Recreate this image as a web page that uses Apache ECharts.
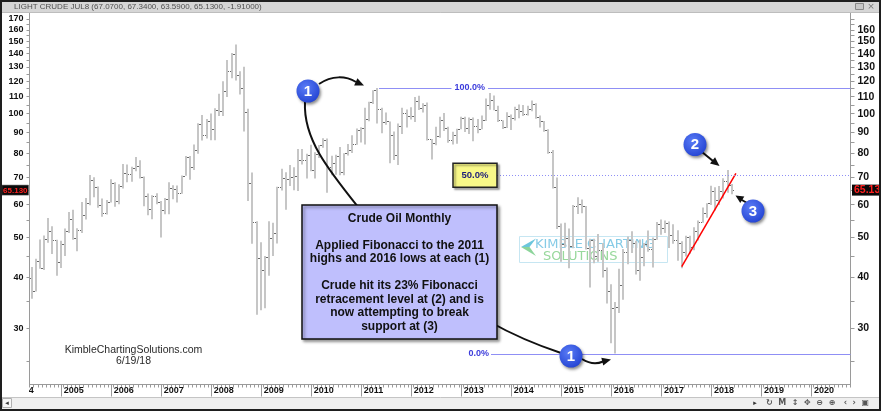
<!DOCTYPE html>
<html>
<head>
<meta charset="utf-8">
<script src="https://cdn.jsdelivr.net/npm/echarts@6.0.0/dist/echarts.min.js"></script>
<style>
html,body{margin:0;padding:0;background:#fff;}
#chart{width:881px;height:411px;}
</style>
</head>
<body>
<div id="chart"></div>
<script>
// ---------------- DATA ----------------
// Monthly bars, first bar = 2004-06, last bar = 2018-06
const firstBar = { year: 2004, month: 6 };
const axisEnd = { year: 2020, month: 10 };

const open = [
  39.90, 37.05, 43.80, 42.12, 49.64, 51.76, 49.13,
  43.45, 48.20, 51.75, 55.40, 49.72, 51.97, 56.50, 60.57, 68.94, 66.24, 59.76, 57.32,
  61.04, 67.92, 61.41, 66.63, 71.88, 71.29, 73.93, 74.40, 70.26, 62.91, 58.73, 63.13,
  61.05, 58.14, 61.79, 65.87, 65.71, 64.01, 70.68, 78.21, 74.04, 81.66, 94.53, 88.71,
  95.98, 91.75, 101.84, 101.58, 113.46, 127.35, 140.00, 124.08, 115.46, 100.64, 67.81, 54.43,
  44.60, 41.68, 44.76, 49.66, 51.12, 66.31, 69.89, 69.45, 69.96, 70.61, 77.00, 77.28,
  79.36, 72.89, 79.66, 83.76, 86.15, 73.97, 75.63, 78.95, 71.92, 79.97, 81.43, 84.11,
  91.38, 92.19, 96.97, 106.72, 113.93, 102.70, 95.42, 95.70, 88.81, 79.20, 93.19, 100.36,
  98.83, 98.48, 107.07, 103.02, 104.87, 86.53, 84.96, 88.06, 96.47, 92.19, 86.24, 88.91,
  91.82, 97.49, 92.05, 97.23, 93.46, 91.97, 96.56, 105.03, 107.65, 102.33, 96.38, 92.72,
  98.42, 97.49, 102.59, 101.58, 99.74, 102.71, 105.37, 98.17, 95.96, 91.16, 80.54, 66.15,
  53.27, 48.24, 49.76, 47.60, 59.63, 60.30, 59.47, 47.12, 49.20, 45.09, 46.59, 41.65,
  37.04, 33.62, 33.75, 38.34, 45.92, 49.10, 48.33, 41.60, 44.70, 48.24, 46.86, 49.44,
  53.72, 52.81, 54.01, 50.60, 49.33, 48.32, 46.04, 50.17, 47.23, 51.67, 54.38, 57.40,
  60.42, 64.73, 61.64, 64.94, 68.57, 67.07
];
const high = [
  42.33, 44.34, 49.40, 50.47, 55.67, 53.15, 49.30,
  49.00, 52.50, 57.60, 58.30, 52.60, 60.95, 62.30, 70.85, 70.00, 66.50, 62.10, 61.60,
  69.20, 68.10, 67.30, 75.35, 75.20, 74.20, 78.40, 77.00, 70.30, 63.90, 63.30, 64.00,
  61.30, 62.30, 68.10, 66.90, 66.80, 70.70, 78.80, 78.80, 84.10, 94.70, 99.30, 97.00,
  100.10, 103.00, 111.80, 119.90, 135.10, 140.40, 147.30, 126.80, 130.00, 102.80, 71.90, 54.70,
  48.60, 45.00, 54.70, 54.20, 66.40, 73.40, 72.00, 75.00, 74.00, 82.00, 82.00, 79.80,
  83.95, 80.50, 83.90, 87.10, 87.00, 79.00, 79.40, 82.90, 80.10, 84.40, 88.60, 92.00,
  92.60, 103.40, 106.95, 114.00, 115.50, 103.40, 100.60, 95.70, 90.50, 94.60, 103.40, 102.40,
  103.70, 109.80, 110.50, 106.00, 106.40, 86.80, 92.90, 98.30, 100.40, 92.90, 90.30, 91.90,
  98.20, 98.20, 97.80, 97.80, 97.00, 99.00, 108.90, 112.20, 110.70, 104.50, 96.40, 100.80,
  99.50, 104.00, 105.20, 104.99, 104.50, 107.70, 106.00, 98.90, 96.00, 91.60, 81.60, 69.90,
  54.00, 54.20, 52.50, 59.90, 62.60, 61.80, 59.60, 49.60, 49.60, 50.90, 48.40, 42.20,
  38.40, 34.80, 41.90, 46.80, 50.20, 51.70, 49.00, 49.40, 48.40, 51.90, 49.90, 54.50,
  55.20, 54.90, 54.60, 53.80, 52.00, 48.90, 50.40, 50.40, 52.90, 54.90, 59.05, 60.50,
  66.70, 66.20, 66.60, 69.60, 72.90, 67.40
];
const low = [
  35.40, 36.90, 41.90, 41.60, 48.50, 45.50, 40.30,
  42.10, 45.00, 51.20, 49.30, 46.20, 51.20, 55.20, 59.80, 62.60, 59.00, 56.10, 56.80,
  60.80, 59.30, 60.20, 65.70, 68.10, 68.30, 72.40, 69.50, 59.50, 56.60, 55.30, 60.20,
  49.90, 56.90, 56.90, 61.90, 60.80, 63.80, 70.60, 69.00, 72.90, 79.80, 86.00, 87.00,
  86.10, 86.10, 98.70, 98.70, 109.80, 122.00, 120.40, 111.30, 90.50, 61.30, 48.20, 32.40,
  33.20, 33.60, 40.30, 45.00, 48.30, 65.00, 58.30, 66.60, 65.10, 64.80, 75.20, 69.50,
  72.40, 69.50, 78.00, 82.60, 64.20, 70.80, 71.00, 70.80, 70.80, 79.10, 80.20, 84.00,
  85.10, 84.10, 95.80, 105.50, 94.60, 89.60, 94.00, 75.70, 77.10, 74.95, 89.20, 92.50,
  96.70, 95.40, 102.10, 100.70, 86.00, 77.30, 83.70, 87.30, 90.70, 84.90, 84.10, 84.50,
  91.60, 90.20, 89.20, 85.60, 89.60, 91.60, 95.90, 102.20, 101.90, 95.40, 91.80, 92.20,
  91.20, 96.20, 97.40, 98.70, 98.90, 101.40, 97.20, 92.50, 90.40, 79.80, 65.70, 52.40,
  43.60, 47.30, 42.00, 47.00, 57.00, 57.20, 46.70, 37.75, 43.20, 43.60, 39.90, 34.50,
  27.60, 26.05, 32.70, 35.20, 43.00, 45.80, 40.60, 39.20, 42.50, 46.10, 42.20, 49.30,
  50.70, 51.20, 47.10, 48.20, 43.80, 42.05, 44.90, 45.60, 46.50, 49.10, 54.20, 55.80,
  59.90, 58.10, 59.95, 62.10, 64.20, 63.59
];
const close = [
  37.05, 43.80, 42.12, 49.64, 51.76, 49.13, 43.45,
  48.20, 51.75, 55.40, 49.72, 51.97, 56.50, 60.57, 68.94, 66.24, 59.76, 57.32, 61.04,
  67.92, 61.41, 66.63, 71.88, 71.29, 73.93, 74.40, 70.26, 62.91, 58.73, 63.13, 61.05,
  58.14, 61.79, 65.87, 65.71, 64.01, 70.68, 78.21, 74.04, 81.66, 94.53, 88.71, 95.98,
  91.75, 101.84, 101.58, 113.46, 127.35, 140.00, 124.08, 115.46, 100.64, 67.81, 54.43, 44.60,
  41.68, 44.76, 49.66, 51.12, 66.31, 69.89, 69.45, 69.96, 70.61, 77.00, 77.28, 79.36,
  72.89, 79.66, 83.76, 86.15, 73.97, 75.63, 78.95, 71.92, 79.97, 81.43, 84.11, 91.38,
  92.19, 96.97, 106.72, 113.93, 102.70, 95.42, 95.70, 88.81, 79.20, 93.19, 100.36, 98.83,
  98.48, 107.07, 103.02, 104.87, 86.53, 84.96, 88.06, 96.47, 92.19, 86.24, 88.91, 91.82,
  97.49, 92.05, 97.23, 93.46, 91.97, 96.56, 105.03, 107.65, 102.33, 96.38, 92.72, 98.42,
  97.49, 102.59, 101.58, 99.74, 102.71, 105.37, 98.17, 95.96, 91.16, 80.54, 66.15, 53.27,
  48.24, 49.76, 47.60, 59.63, 60.30, 59.47, 47.12, 49.20, 45.09, 46.59, 41.65, 37.04,
  33.62, 33.75, 38.34, 45.92, 49.10, 48.33, 41.60, 44.70, 48.24, 46.86, 49.44, 53.72,
  52.81, 54.01, 50.60, 49.33, 48.32, 46.04, 50.17, 47.23, 51.67, 54.38, 57.40, 60.42,
  64.73, 61.64, 64.94, 68.57, 67.04, 65.13
];

const leftAxisLabels = [30, 40, 50, 60, 70, 80, 90, 100, 110, 120, 130, 140, 150, 160, 170];
const rightAxisLabels = [30, 40, 50, 60, 70, 80, 90, 100, 110, 120, 130, 140, 150, 160];
const yTickValues = [25, 30, 35, 40, 45, 50, 55, 60, 65, 70, 75, 80, 85, 90, 95, 100, 105, 110,
  115, 120, 125, 130, 135, 140, 145, 150, 155, 160, 165, 170];

const fibStart = '2011-05';
const fibHigh = 115.5;   // 100.0%
const fibMid = 70.8;     // 50.0%
const fibLow = 26.05;    // 0.0%
const trendPoints = [['2017-06', 42.4], ['2018-07', 71.5]];
const lastPrice = 65.13;

const headerText = 'LIGHT CRUDE JUL8 (67.0700, 67.3400, 63.5900, 65.1300, -1.91000)';
const noteLines = ['Crude Oil Monthly', '', 'Applied Fibonacci to the 2011', 'highs and 2016 lows at each (1)', '',
  'Crude hit its 23% Fibonacci', 'retracement level at (2) and is', 'now attempting to break', 'support at (3)'];

// ---------------- BUILD ----------------
const categories = [];
{
  let y = firstBar.year, m = firstBar.month;
  while (y < axisEnd.year || (y === axisEnd.year && m <= axisEnd.month)) {
    categories.push(y + '-' + String(m).padStart(2, '0'));
    m++; if (m > 12) { m = 1; y++; }
  }
}
const ohlcRows = close.map((c, i) => [i, open[i], high[i], low[i], c]);
const isJan = (idx, val) => String(val).slice(5) === '01';

const GRID = { left: 29.5, right: 30.5, top: 13, bottom: 26.5 };
const Y_MIN = 21.9, Y_MAX = 175.8;
const AXIS_GRAY = '#9a9a9a';

const chart = echarts.init(document.getElementById('chart'), null, { renderer: 'canvas', devicePixelRatio: 1 });

chart.setOption({
  animation: false,
  backgroundColor: '#ffffff',
  textStyle: { fontFamily: 'Liberation Sans' },
  grid: Object.assign({ outerBoundsMode: 'none', containLabel: false }, GRID),
  xAxis: [{
    type: 'category', data: categories, boundaryGap: true, position: 'bottom',
    axisLine: { show: true, lineStyle: { color: AXIS_GRAY, width: 1 } },
    axisTick: { show: true, interval: 0, length: 3, lineStyle: { color: AXIS_GRAY } },
    axisLabel: { show: false }, splitLine: { show: false }
  }, {
    type: 'category', data: categories, boundaryGap: true, position: 'bottom',
    axisLine: { show: false },
    axisTick: { show: true, alignWithLabel: true, interval: isJan, length: 12, lineStyle: { color: AXIS_GRAY } },
    axisLabel: {
      show: true, interval: isJan, formatter: v => v.slice(0, 4), align: 'left',
      padding: [0, 0, 0, 3], margin: 2, fontSize: 9, fontWeight: 'bold', color: '#111',
      hideOverlap: false
    },
    splitLine: { show: false }
  }],
  yAxis: [{
    type: 'log', logBase: 10, min: Y_MIN, max: Y_MAX, position: 'left',
    axisLine: { show: true, lineStyle: { color: AXIS_GRAY, width: 1 } },
    axisTick: { show: true, inside: false, length: 3, customValues: yTickValues, lineStyle: { color: AXIS_GRAY } },
    axisLabel: { customValues: leftAxisLabels, margin: 6, fontSize: 9, fontWeight: 'bold', color: '#111' },
    splitLine: { show: false }, minorTick: { show: false }
  }, {
    type: 'log', logBase: 10, min: Y_MIN, max: Y_MAX, position: 'right',
    axisLine: { show: true, lineStyle: { color: AXIS_GRAY, width: 1 } },
    axisTick: { show: true, inside: false, length: 4, customValues: yTickValues, lineStyle: { color: AXIS_GRAY } },
    axisLabel: { customValues: rightAxisLabels, margin: 7, fontSize: 10.5, fontWeight: 'bold', color: '#111' },
    splitLine: { show: false }, minorTick: { show: false }
  }],
  series: [{
    type: 'custom', name: 'Light Crude', xAxisIndex: 0, yAxisIndex: 0, z: 3,
    encode: { x: 0, y: [1, 2, 3, 4] },
    data: ohlcRows,
    renderItem: function (params, api) {
      const idx = api.value(0);
      const o = api.coord([idx, api.value(1)]);
      const h = api.coord([idx, api.value(2)]);
      const l = api.coord([idx, api.value(3)]);
      const c = api.coord([idx, api.value(4)]);
      const x = Math.round(h[0]);
      const oy = Math.round(o[1]) + 0.5, cy = Math.round(c[1]) + 0.5;
      return {
        type: 'group', children: [
          { type: 'line', shape: { x1: x, y1: h[1], x2: x, y2: l[1] }, style: { stroke: '#c6c6c6', lineWidth: 2 } },
          { type: 'line', shape: { x1: x - 2, y1: oy, x2: x - 1, y2: oy }, style: { stroke: '#6a6a6a', lineWidth: 1 } },
          { type: 'line', shape: { x1: x + 1, y1: cy, x2: x + 2, y2: cy }, style: { stroke: '#6a6a6a', lineWidth: 1 } }
        ]
      };
    }
  }, {
    type: 'line', name: 'Support', xAxisIndex: 0, yAxisIndex: 0, z: 6,
    data: trendPoints, showSymbol: false, symbol: 'none',
    lineStyle: { color: '#ff0000', width: 1.5 }
  }]
});

// ---------------- ANNOTATIONS ----------------
const xOf = c => chart.convertToPixel({ xAxisIndex: 0 }, c);
const yOf = v => chart.convertToPixel({ yAxisIndex: 0 }, v);
const plotRight = 881 - GRID.right;

function arrowHead(tip, from, len, halfW, z) {
  const dx = tip[0] - from[0], dy = tip[1] - from[1];
  const d = Math.sqrt(dx * dx + dy * dy);
  const ux = dx / d, uy = dy / d;
  const bx = tip[0] - ux * len, by = tip[1] - uy * len;
  return { type: 'polygon', z: z || 60, shape: { points: [tip, [bx - uy * halfW, by + ux * halfW], [bx + uy * halfW, by - ux * halfW]] }, style: { fill: '#111' } };
}
function badge(n, cx, cy) {
  return [{
    type: 'circle', z: 70, shape: { cx: cx, cy: cy, r: 11.5 },
    style: {
      fill: { type: 'radial', x: 0.4, y: 0.35, r: 0.75, colorStops: [{ offset: 0, color: '#5a7cf6' }, { offset: 1, color: '#1f3fd0' }] },
      shadowBlur: 3, shadowColor: 'rgba(0,0,0,0.45)', shadowOffsetX: 1.5, shadowOffsetY: 2
    }
  }, {
    type: 'text', z: 71, style: { text: n, x: cx, y: cy + 0.5, align: 'center', verticalAlign: 'middle', fill: '#fff', font: 'bold 15px "Liberation Sans"' }
  }];
}

const y100 = yOf(fibHigh), y50 = yOf(fibMid), y0 = yOf(fibLow);
const x100 = xOf(fibStart) + 1.5;
const yLast = yOf(lastPrice);
const janX = xOf(categories.find(c => c.endsWith('-01')));

const black = '#111';
const g = [];

// watermark logo (behind bars)
g.push({ type: 'rect', z: 1, shape: { x: 519.5, y: 236.5, width: 148, height: 26 }, style: { fill: 'rgba(255,255,255,0.3)', stroke: '#c6e6f2', lineWidth: 1 } });
g.push({ type: 'polygon', z: 1, shape: { points: [[521, 247], [536, 238.5], [529.5, 247]] }, style: { fill: '#6cc6dc' } });
g.push({ type: 'polygon', z: 1, shape: { points: [[521, 247], [529.5, 247], [536, 256]] }, style: { fill: '#8cd49a' } });
g.push({ type: 'text', z: 1, style: { text: 'KIMBLE CHARTING', x: 535, y: 245, verticalAlign: 'middle', fill: '#86cbe6', font: '13px "DejaVu Sans"' } });
g.push({ type: 'text', z: 1, style: { text: 'SOLUTIONS', x: 543, y: 256.5, verticalAlign: 'middle', fill: '#98d89c', font: '13px "DejaVu Sans"' } });

// Fibonacci levels
g.push({ type: 'line', z: 40, shape: { x1: x100, y1: Math.round(y100) + 0.5, x2: plotRight, y2: Math.round(y100) + 0.5 }, style: { stroke: '#8f8ff5', lineWidth: 1 } });
g.push({ type: 'text', z: 41, style: { text: '100.0%', x: 488, y: y100, align: 'right', verticalAlign: 'middle', fill: '#3b3bdb', font: 'bold 9px "Liberation Sans"', backgroundColor: '#fff', padding: [1, 3, 1, 3] } });
g.push({ type: 'line', z: 40, shape: { x1: 497, y1: Math.round(y50) + 0.5, x2: plotRight, y2: Math.round(y50) + 0.5 }, style: { stroke: '#8f8ff5', lineWidth: 1, lineDash: [1, 2] } });
g.push({ type: 'rect', z: 41, shape: { x: 453, y: y50 - 12, width: 44, height: 24 }, style: { fill: '#f8f888', stroke: '#222', lineWidth: 1.5, shadowBlur: 2, shadowColor: 'rgba(0,0,0,0.35)', shadowOffsetX: 2, shadowOffsetY: 2 } });
g.push({ type: 'text', z: 42, style: { text: '50.0%', x: 475, y: y50, align: 'center', verticalAlign: 'middle', fill: '#1c1c7a', font: 'bold 9.5px "Liberation Sans"' } });
g.push({ type: 'line', z: 40, shape: { x1: 491, y1: Math.round(y0) + 0.5, x2: plotRight, y2: Math.round(y0) + 0.5 }, style: { stroke: '#8f8ff5', lineWidth: 1 } });
g.push({ type: 'text', z: 41, style: { text: '0.0%', x: 489, y: y0, align: 'right', verticalAlign: 'middle', fill: '#3b3bdb', font: 'bold 9px "Liberation Sans"' } });

// connecting S-curve (passes behind the note box)
g.push({ type: 'bezierCurve', z: 50, shape: { x1: 305, y1: 102, cpx1: 303, cpy1: 140, cpx2: 330, cpy2: 172, x2: 362, y2: 212 }, style: { stroke: black, lineWidth: 2, fill: null } });
g.push({ type: 'bezierCurve', z: 50, shape: { x1: 490, y1: 322, cpx1: 522, cpy1: 340, x2: 561, y2: 353 }, style: { stroke: black, lineWidth: 2, fill: null } });

// note box
g.push({ type: 'rect', z: 55, shape: { x: 302, y: 205, width: 195, height: 134 }, style: { fill: '#bfbffd', stroke: '#111', lineWidth: 1.5, shadowBlur: 3, shadowColor: 'rgba(0,0,0,0.4)', shadowOffsetX: 2, shadowOffsetY: 2 } });
g.push({ type: 'text', z: 56, style: { text: noteLines.join('\n'), x: 399.5, y: 272.5, align: 'center', verticalAlign: 'middle', fill: '#111', font: 'bold 12px "Liberation Sans"', lineHeight: 13.5 } });

// arrows
g.push({ type: 'bezierCurve', z: 60, shape: { x1: 319, y1: 84, cpx1: 332, cpy1: 75, cpx2: 346, cpy2: 76, x2: 356, y2: 82 }, style: { stroke: black, lineWidth: 2, fill: null } });
g.push(arrowHead([364, 85.5], [354, 81], 9, 4));
g.push({ type: 'bezierCurve', z: 60, shape: { x1: 582, y1: 359, cpx1: 593, cpy1: 366, x2: 603, y2: 361.5 }, style: { stroke: black, lineWidth: 2, fill: null } });
g.push(arrowHead([611, 359.5], [602, 361.8], 9, 4));
g.push({ type: 'line', z: 60, shape: { x1: 702, y1: 152, x2: 713, y2: 161 }, style: { stroke: black, lineWidth: 2 } });
g.push(arrowHead([719.5, 166], [711.5, 159.5], 9, 4));
g.push({ type: 'line', z: 60, shape: { x1: 748, y1: 203.5, x2: 741, y2: 199.5 }, style: { stroke: black, lineWidth: 2 } });
g.push(arrowHead([735.5, 195.5], [743.5, 200.5], 8, 3.8));

// numbered badges
[['1', 308, 91], ['1', 571, 356], ['2', 695, 144.5], ['3', 753, 211]].forEach(b => badge(b[0], b[1], b[2]).forEach(e => g.push(e)));

// site + date
g.push({ type: 'text', z: 45, style: { text: 'KimbleChartingSolutions.com', x: 133.5, y: 350, align: 'center', verticalAlign: 'middle', fill: '#2a2a2a', font: '10.5px "Liberation Sans"' } });
g.push({ type: 'text', z: 45, style: { text: '6/19/18', x: 133.5, y: 361.5, align: 'center', verticalAlign: 'middle', fill: '#2a2a2a', font: '10.5px "Liberation Sans"' } });

// clipped 2004 label fragment
g.push({ type: 'text', z: 45, style: { text: '2004', x: janX - 50 + 3, y: 386.5, verticalAlign: 'top', fill: '#111', font: 'bold 9px "Liberation Sans"' } });
g.push({ type: 'rect', z: 46, shape: { x: 0, y: 386, width: 29, height: 11 }, style: { fill: '#fff' } });

// last price tags
g.push({ type: 'rect', z: 80, shape: { x: 2, y: yLast - 5, width: 26.5, height: 10 }, style: { fill: '#0a0a0a', stroke: '#555', lineWidth: 0.5 } });
g.push({ type: 'text', z: 81, style: { text: lastPrice.toFixed(3), x: 15.3, y: yLast + 0.5, align: 'center', verticalAlign: 'middle', fill: '#ff2020', font: 'bold 8px "Liberation Sans"' } });
g.push({ type: 'rect', z: 80, shape: { x: 852, y: yLast - 5.5, width: 29, height: 11 }, style: { fill: '#0a0a0a' } });
g.push({ type: 'text', z: 81, style: { text: lastPrice.toFixed(2), x: 854, y: yLast + 0.5, verticalAlign: 'middle', fill: '#ff2020', font: 'bold 10.5px "Liberation Sans"' } });

// header bar
g.push({ type: 'rect', z: 90, shape: { x: 0, y: 0, width: 881, height: 13 }, style: { fill: '#d6d6d6' } });
g.push({ type: 'line', z: 90, shape: { x1: 0, y1: 12.5, x2: 881, y2: 12.5 }, style: { stroke: '#bdbdbd', lineWidth: 1 } });
g.push({ type: 'text', z: 91, style: { text: headerText, x: 14, y: 6.5, verticalAlign: 'middle', fill: '#505050', font: '8px "Liberation Sans"' } });
g.push({ type: 'rect', z: 91, shape: { x: 855.5, y: 3.5, width: 8, height: 6 }, style: { fill: '#c8c8c8', stroke: '#888', lineWidth: 1 } });
g.push({ type: 'text', z: 91, style: { text: '×', x: 871, y: 6.5, align: 'center', verticalAlign: 'middle', fill: '#777', font: '9px "DejaVu Sans"' } });

// bottom strip
g.push({ type: 'rect', z: 90, shape: { x: 0, y: 397, width: 881, height: 14 }, style: { fill: '#efefef' } });
g.push({ type: 'line', z: 90, shape: { x1: 0, y1: 397.5, x2: 881, y2: 397.5 }, style: { stroke: '#c4c4c4', lineWidth: 1 } });
g.push({ type: 'rect', z: 91, shape: { x: 2.5, y: 398.5, width: 9, height: 9 }, style: { fill: '#f6f6f6', stroke: '#b0b0b0', lineWidth: 1 } });
g.push({ type: 'text', z: 92, style: { text: '◂', x: 7, y: 403, align: 'center', verticalAlign: 'middle', fill: '#333', font: '7px "DejaVu Sans"' } });
g.push({ type: 'text', z: 92, style: { text: '▸', x: 755, y: 403, align: 'center', verticalAlign: 'middle', fill: '#333', font: '7px "DejaVu Sans"' } });
g.push({ type: 'text', z: 92, style: { text: '↻  M  ↕  ✥  ⊖  ⊕   ‹  ›  ▣', x: 766, y: 403, verticalAlign: 'middle', fill: '#555', font: 'bold 8px "DejaVu Sans"' } });

// frame
g.push({ type: 'rect', z: 99, shape: { x: 1, y: 1, width: 879, height: 409 }, style: { fill: null, stroke: '#1e1e1e', lineWidth: 2 } });

chart.setOption({ graphic: { elements: g } });
</script>
</body>
</html>
